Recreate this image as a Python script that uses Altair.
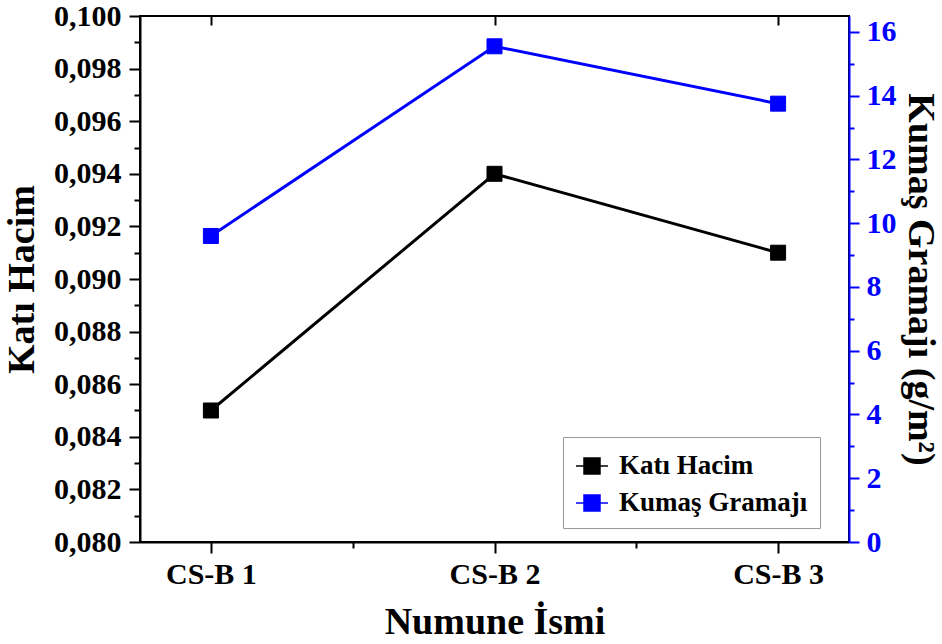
import json
import altair as alt
import pandas as pd

# ---- data ----
categories = ["CS-B 1", "CS-B 2", "CS-B 3"]
positions = [1, 2, 3]
kati_hacim = [0.085, 0.094, 0.091]
kumas_gramaji = [9.6, 15.55, 13.75]
series_names = ["Katı Hacim", "Kumaş Gramajı"]
series_colors = ["#000000", "#0000FF"]
left_major = [0.080, 0.082, 0.084, 0.086, 0.088, 0.090, 0.092, 0.094, 0.096, 0.098, 0.100]
left_minor = [0.081, 0.083, 0.085, 0.087, 0.089, 0.091, 0.093, 0.095, 0.097, 0.099]
right_major = [0, 2, 4, 6, 8, 10, 12, 14, 16]
right_minor = [1, 3, 5, 7, 9, 11, 13, 15]
x_minor = [1.5, 2.5]

df_left = pd.DataFrame({"pos": positions, "cat": categories, "value": kati_hacim,
                        "series": series_names[0]})
df_right = pd.DataFrame({"pos": positions, "cat": categories, "value": kumas_gramaji,
                         "series": series_names[1]})

FONT = "Liberation Serif"
BLUE = "#0000FF"
cat_js = json.dumps(categories)

x_scale = alt.Scale(domain=[0.75, 3.25], nice=False, zero=False)
yl_scale = alt.Scale(domain=[0.080, 0.100], nice=False, zero=False)
yr_scale = alt.Scale(domain=[0, 16.5], nice=False)
color_scale = alt.Scale(domain=series_names, range=series_colors)

legend = alt.Legend(
    title=None, orient="none", legendX=423, legendY=421,
    symbolType="M-1,0H-0.5M0.5,0H1M-0.5,-0.5H0.5V0.5H-0.5Z",
    symbolSize=1024, symbolStrokeWidth=1.5,
    labelFont=FONT, labelFontSize=27, labelFontWeight="bold", labelColor="black",
    labelOffset=10, labelLimit=400, rowPadding=7, padding=12,
    fillColor="white", strokeColor="#9a9a9a",
)

axis_common = dict(
    labelFont=FONT, labelFontWeight="bold", labelFontSize=30,
    titleFont=FONT, titleFontWeight="bold", titleFontSize=38, titleColor="black",
    grid=False, labelOverlap=False, labelFlush=False, tickWidth=2, domainWidth=2,
)

x_bottom = alt.Axis(
    orient="bottom", values=positions,
    labelExpr=f"{cat_js}[datum.value - 1]",
    tickSize=11, tickColor="black", domainColor="black", labelColor="black",
    labelPadding=6, titlePadding=14, **axis_common,
)
x_bottom_minor = alt.Axis(
    orient="bottom", values=x_minor, labels=False, domain=False, title=None,
    tickSize=6, tickColor="black", tickWidth=2, grid=False,
)
x_top = alt.Axis(
    orient="top", values=positions, labels=False, domain=False, offset=-9,
    tickSize=9, tickColor="black", tickWidth=2, grid=False, title=None,
)
y_left = alt.Axis(
    orient="left", values=left_major,
    labelExpr="replace(format(datum.value, '.3f'), '.', ',')",
    tickSize=11, tickColor="black", domainColor="black", labelColor="black",
    labelPadding=8, titlePadding=12, **axis_common,
)
y_left_minor = alt.Axis(
    orient="left", values=left_minor, labels=False, domain=False, title=None,
    tickSize=6, tickColor="black", tickWidth=2, grid=False,
)
y_right = alt.Axis(
    orient="right", values=right_major,
    tickSize=10, tickColor=BLUE, domainColor=BLUE, labelColor=BLUE,
    labelPadding=7, titlePadding=4, zindex=1, **axis_common,
)
y_right_minor = alt.Axis(
    orient="right", values=right_minor, labels=False, domain=False, title=None,
    tickSize=5, tickColor=BLUE, tickWidth=2, grid=False,
)

left_line = alt.Chart(df_left).mark_line(color="#000000", strokeWidth=3).encode(
    x=alt.X("pos:Q", scale=x_scale, axis=x_bottom, title="Numune İsmi"),
    y=alt.Y("value:Q", scale=yl_scale, axis=y_left, title="Katı Hacim"),
)
left_ticks = alt.Chart(df_left).mark_line(strokeOpacity=0).encode(
    x=alt.X("pos:Q", scale=x_scale, axis=x_bottom_minor),
    y=alt.Y("value:Q", scale=yl_scale, axis=y_left_minor),
)
left_pts = alt.Chart(df_left).mark_point(shape="square", filled=True, size=225,
                                         strokeWidth=1, opacity=1).encode(
    x=alt.X("pos:Q", scale=x_scale, axis=None),
    y=alt.Y("value:Q", scale=yl_scale, axis=None),
    fill=alt.Fill("series:N", scale=color_scale, legend=legend),
    stroke=alt.Stroke("series:N", scale=color_scale, legend=legend),
)
right_line = alt.Chart(df_right).mark_line(color=BLUE, strokeWidth=3).encode(
    x=alt.X("pos:Q", scale=x_scale, axis=x_top),
    y=alt.Y("value:Q", scale=yr_scale, axis=y_right, title="Kumaş Gramajı (g/m²)"),
)
right_ticks = alt.Chart(df_right).mark_line(strokeOpacity=0).encode(
    x=alt.X("pos:Q", scale=x_scale, axis=None),
    y=alt.Y("value:Q", scale=yr_scale, axis=y_right_minor),
)
right_pts = alt.Chart(df_right).mark_point(shape="square", filled=True, size=225,
                                           strokeWidth=1, opacity=1).encode(
    x=alt.X("pos:Q", scale=x_scale, axis=None),
    y=alt.Y("value:Q", scale=yr_scale, axis=None),
    fill=alt.Fill("series:N", scale=color_scale, legend=legend),
    stroke=alt.Stroke("series:N", scale=color_scale, legend=legend),
)

left = alt.layer(left_line, left_ticks, left_pts).resolve_axis(x="independent", y="independent")
right = alt.layer(right_line, right_ticks, right_pts).resolve_axis(x="independent", y="independent")

chart = (
    alt.layer(left, right)
    .resolve_scale(y="independent")
    .resolve_axis(x="independent", y="independent")
    .properties(
        width=709, height=526,
        autosize=alt.AutoSizeParams(type="none"),
        padding={"left": 140, "top": 16, "right": 93, "bottom": 102},
        background="white",
    )
    .configure_view(stroke="black", strokeWidth=2)
)

chart.save("out.html", embed_options={"renderer": "svg", "actions": False})
